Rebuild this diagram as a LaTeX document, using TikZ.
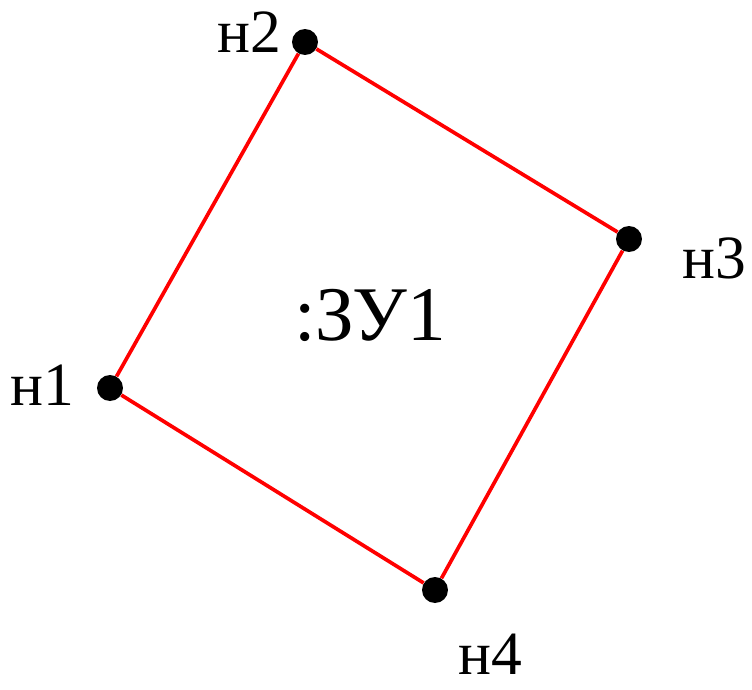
\documentclass[tikz,border=0pt]{standalone}
\usepackage{fontspec}
\setmainfont{Liberation Serif}
\usetikzlibrary{positioning}

\begin{document}
\begin{tikzpicture}[x=0.02cm, y=-0.02cm,
  pt/.style={circle, fill=black, inner sep=0pt, minimum size=0.52cm},
  lbl/.style={anchor=base, inner sep=0pt, text depth=0pt, font=\fontsize{35}{35}\selectfont},
  edge/.style={draw=red, line width=2.1pt}]
  \useasboundingbox (0,0) rectangle (752,690);
  \node[pt] (n1) at (110,388) {};
  \node[pt] (n2) at (305,42) {};
  \node[pt] (n3) at (629,239) {};
  \node[pt] (n4) at (435,590) {};
  \draw[edge] (n1) -- (n2);
  \draw[edge] (n2) -- (n3);
  \draw[edge] (n3) -- (n4);
  \draw[edge] (n4) -- (n1);
  \node[lbl] (l1) at (42,405) {н1};
  \node[lbl] (l2) at (249,52) {н2};
  \node[lbl] (l3) at (714,278) {н3};
  \node[lbl] (l4) at (490,674) {н4};
  \node[anchor=base, inner sep=0pt, font=\fontsize{44}{44}\selectfont] (zu) at (370,340) {:ЗУ1};
\end{tikzpicture}
\end{document}
